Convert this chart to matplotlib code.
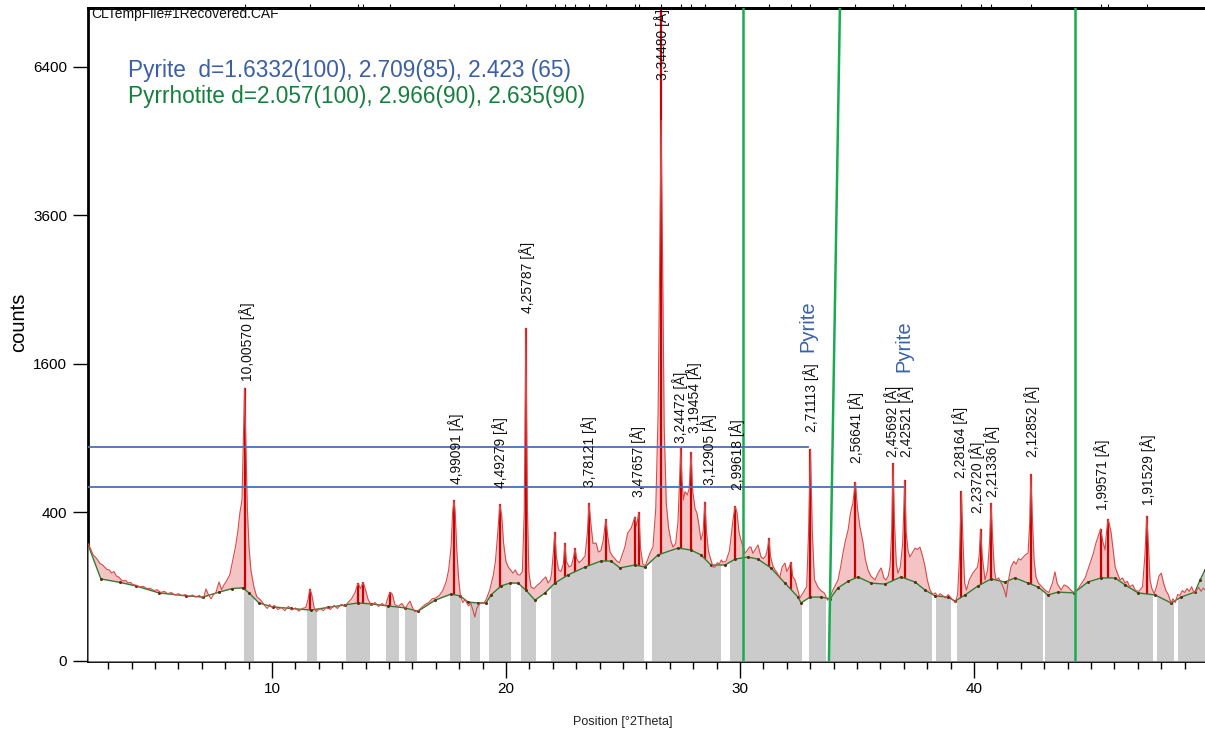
import numpy as np
import matplotlib
matplotlib.use("Agg")
import matplotlib.pyplot as plt
from matplotlib.path import Path

# ---------------- data ----------------
bg_points = [(2.14, 245), (2.69, 122), (3.5, 112), (4.19, 102), (5.17, 84), (6.32, 77), (7.05, 74),
             (7.74, 86), (8.3, 95), (8.76, 97), (9.02, 84), (9.44, 61), (10.04, 53), (10.8, 50),
             (11.67, 47), (12.4, 52), (13.12, 57), (13.68, 61), (14.23, 59), (14.96, 55), (15.68, 51),
             (16.24, 45), (16.97, 67), (17.65, 81), (18.03, 77), (18.38, 63), (18.8, 61), (19.15, 61),
             (19.36, 79), (19.79, 102), (20.17, 110), (20.51, 110), (20.85, 91), (21.24, 67), (21.67, 84),
             (22.09, 110), (22.65, 134), (23.38, 160), (24.06, 181), (24.49, 181), (24.87, 157),
             (25.51, 167), (25.94, 160), (26.50, 204), (27.35, 231), (27.91, 223), (28.33, 204),
             (28.76, 167), (29.36, 167), (29.79, 188), (30.34, 196), (30.77, 188), (31.32, 157),
             (31.92, 110), (32.48, 74), (32.61, 61), (32.99, 74), (33.46, 74), (33.85, 70), (34.19, 97),
             (34.62, 115), (35.04, 128), (35.60, 110), (36.20, 107), (36.88, 128), (37.48, 113),
             (37.91, 91), (38.33, 77), (38.89, 74), (39.19, 65), (39.62, 79), (40.17, 102), (40.73, 122),
             (41.32, 113), (41.75, 125), (42.31, 110), (42.74, 99), (43.16, 79), (43.59, 86), (44.27, 84),
             (44.87, 113), (45.43, 125), (46.03, 125), (46.45, 105), (47.01, 84), (47.74, 79),
             (48.42, 61), (48.85, 74), (49.44, 86), (49.66, 119), (49.87, 150)]

obs_points = [
    (2.14, 250), (2.25, 228), (2.35, 205), (2.45, 196), (2.55, 185), (2.65, 172), (2.75, 168), (2.85, 160),
    (2.95, 152), (3.05, 150), (3.15, 140), (3.25, 145), (3.35, 131), (3.45, 128), (3.55, 120), (3.65, 116),
    (3.75, 118), (3.85, 110), (3.95, 112), (4.05, 106), (4.2, 104), (4.35, 99), (4.5, 101), (4.65, 95),
    (4.8, 96), (4.95, 90), (5.1, 92), (5.25, 85), (5.4, 88), (5.55, 82), (5.7, 85), (5.85, 79), (6.0, 82),
    (6.15, 77), (6.3, 80), (6.45, 75), (6.6, 79), (6.75, 74), (6.9, 78), (7.0, 72), (7.1, 76), (7.18, 94),
    (7.3, 78), (7.4, 70), (7.5, 80), (7.6, 84), (7.74, 113), (7.85, 92), (7.95, 105), (8.05, 115),
    (8.2, 135), (8.33, 185), (8.45, 240), (8.55, 311), (8.63, 397), (8.72, 470), (8.78, 900), (8.83, 1350),
    (8.88, 900), (8.95, 420), (9.02, 235), (9.1, 150), (9.23, 99), (9.35, 75), (9.5, 68), (9.6, 62),
    (9.7, 55), (9.8, 50), (9.9, 58), (10.0, 52), (10.1, 56), (10.25, 48), (10.4, 52), (10.55, 46),
    (10.7, 54), (10.85, 47), (11.0, 51), (11.15, 45), (11.3, 50), (11.45, 52), (11.55, 70), (11.62, 94),
    (11.7, 80), (11.8, 52), (11.9, 44), (12.05, 50), (12.2, 46), (12.35, 53), (12.5, 48), (12.65, 56),
    (12.8, 50), (12.95, 58), (13.1, 54), (13.25, 62), (13.4, 70), (13.55, 85), (13.68, 110), (13.78, 95),
    (13.9, 112), (14.0, 92), (14.1, 70), (14.25, 56), (14.4, 62), (14.55, 54), (14.7, 60), (14.85, 55),
    (14.95, 72), (15.05, 86), (15.15, 80), (15.25, 58), (15.4, 54), (15.55, 60), (15.7, 50), (15.8, 58),
    (15.9, 65), (16.0, 52), (16.1, 44), (16.25, 46), (16.4, 52), (16.55, 58), (16.7, 62), (16.85, 70),
    (17.0, 72), (17.15, 78), (17.3, 90), (17.45, 115), (17.55, 150), (17.65, 230), (17.72, 400),
    (17.78, 470), (17.83, 400), (17.9, 220), (17.98, 120), (18.05, 80), (18.15, 62), (18.25, 68),
    (18.4, 55), (18.5, 60), (18.6, 45), (18.67, 35), (18.75, 50), (18.85, 58), (18.95, 62), (19.05, 60),
    (19.15, 68), (19.3, 90), (19.45, 130), (19.55, 180), (19.65, 300), (19.74, 446), (19.82, 380),
    (19.9, 250), (20.0, 180), (20.1, 160), (20.2, 150), (20.3, 140), (20.4, 150), (20.5, 135), (20.6, 134),
    (20.7, 145), (20.78, 400), (20.85, 2008), (20.92, 400), (20.98, 140), (21.07, 99), (21.2, 95),
    (21.3, 102), (21.45, 110), (21.55, 118), (21.7, 128), (21.8, 110), (21.9, 120), (21.95, 140),
    (22.03, 220), (22.09, 301), (22.15, 200), (22.25, 150), (22.35, 145), (22.45, 170), (22.52, 252),
    (22.58, 180), (22.7, 160), (22.8, 165), (22.9, 200), (22.95, 231), (23.02, 190), (23.12, 175),
    (23.25, 185), (23.38, 200), (23.48, 300), (23.55, 452), (23.62, 350), (23.72, 250), (23.85, 252),
    (23.95, 215), (24.05, 220), (24.15, 260), (24.27, 365), (24.35, 280), (24.45, 215), (24.55, 200),
    (24.65, 190), (24.75, 180), (24.85, 175), (24.95, 200), (25.08, 235), (25.2, 297), (25.35, 320),
    (25.51, 376), (25.58, 330), (25.68, 402), (25.75, 230), (25.85, 170), (25.95, 165), (26.05, 185),
    (26.15, 210), (26.28, 235), (26.4, 420), (26.5, 1100), (26.57, 3000), (26.63, 5300), (26.69, 3000),
    (26.76, 1000), (26.85, 450), (26.95, 320), (27.05, 260), (27.14, 235), (27.25, 250), (27.35, 350),
    (27.42, 600), (27.47, 822), (27.52, 600), (27.58, 470), (27.65, 520), (27.75, 500), (27.83, 540),
    (27.91, 791), (27.98, 520), (28.08, 420), (28.16, 397), (28.25, 330), (28.33, 265), (28.42, 300),
    (28.5, 458), (28.57, 300), (28.65, 220), (28.72, 196), (28.85, 160), (28.93, 160), (29.03, 175),
    (29.12, 170), (29.2, 185), (29.27, 177), (29.4, 180), (29.55, 220), (29.7, 360), (29.79, 435),
    (29.87, 400), (29.96, 300), (30.04, 265), (30.12, 240), (30.21, 211), (30.3, 220), (30.4, 235),
    (30.47, 235), (30.55, 210), (30.65, 225), (30.77, 244), (30.9, 196), (31.0, 190), (31.1, 200),
    (31.18, 230), (31.24, 274), (31.3, 200), (31.4, 165), (31.5, 150), (31.6, 140), (31.7, 125),
    (31.8, 160), (31.92, 174), (32.0, 145), (32.1, 160), (32.18, 177), (32.25, 130), (32.35, 119),
    (32.45, 95), (32.56, 72), (32.7, 85), (32.85, 100), (32.93, 300), (33.01, 814), (33.09, 300),
    (33.18, 120), (33.33, 99), (33.45, 90), (33.6, 84), (33.74, 67), (33.85, 75), (34.0, 95), (34.19, 119),
    (34.3, 160), (34.4, 211), (34.5, 260), (34.62, 311), (34.72, 397), (34.82, 450), (34.93, 580),
    (35.02, 420), (35.12, 330), (35.26, 252), (35.35, 190), (35.47, 150), (35.6, 130), (35.77, 119),
    (35.9, 140), (36.03, 157), (36.15, 125), (36.24, 119), (36.33, 130), (36.41, 160), (36.48, 300),
    (36.54, 710), (36.6, 350), (36.68, 170), (36.75, 140), (36.85, 160), (36.95, 250), (37.04, 593),
    (37.1, 300), (37.18, 220), (37.26, 196), (37.38, 215), (37.48, 231), (37.58, 225), (37.69, 235),
    (37.8, 200), (37.91, 160), (38.0, 120), (38.12, 91), (38.25, 80), (38.35, 84), (38.45, 75),
    (38.55, 82), (38.65, 78), (38.78, 72), (38.9, 80), (39.05, 70), (39.2, 62), (39.3, 80), (39.38, 200),
    (39.46, 523), (39.53, 250), (39.6, 110), (39.68, 91), (39.8, 120), (39.95, 140), (40.05, 150),
    (40.15, 160), (40.22, 200), (40.28, 316), (40.35, 200), (40.47, 119), (40.58, 150), (40.66, 250),
    (40.73, 452), (40.8, 260), (40.87, 150), (40.94, 119), (41.05, 125), (41.2, 105), (41.3, 90),
    (41.37, 74), (41.45, 110), (41.58, 160), (41.7, 180), (41.8, 170), (41.9, 190), (42.0, 185),
    (42.1, 195), (42.2, 205), (42.31, 211), (42.38, 350), (42.43, 633), (42.5, 350), (42.57, 180),
    (42.65, 128), (42.75, 110), (42.9, 100), (43.05, 90), (43.2, 85), (43.35, 110), (43.46, 144),
    (43.55, 110), (43.72, 91), (43.85, 105), (44.0, 100), (44.15, 90), (44.3, 84), (44.45, 95),
    (44.6, 110), (44.75, 125), (44.96, 174), (45.1, 210), (45.21, 252), (45.33, 290), (45.41, 316),
    (45.5, 260), (45.6, 223), (45.66, 300), (45.73, 365), (45.8, 330), (45.86, 297), (45.95, 220),
    (46.03, 160), (46.15, 135), (46.24, 119), (46.35, 125), (46.45, 110), (46.55, 115), (46.65, 100),
    (46.78, 105), (46.9, 90), (47.05, 88), (47.2, 100), (47.3, 200), (47.38, 381), (47.45, 250),
    (47.52, 119), (47.6, 95), (47.7, 82), (47.8, 100), (47.9, 130), (48.0, 140), (48.1, 110), (48.2, 90),
    (48.3, 80), (48.42, 61), (48.5, 70), (48.6, 62), (48.7, 80), (48.8, 78), (48.9, 90), (49.0, 85),
    (49.1, 95), (49.2, 88), (49.3, 100), (49.4, 84), (49.5, 90), (49.6, 98), (49.7, 88), (49.8, 96),
    (49.87, 92)]

# fitted peak sticks: position (°2θ), top (counts)
stick_pos = [8.83, 11.62, 13.68, 13.9, 15.05, 17.78, 19.74, 20.85, 22.09, 22.52, 22.95, 23.55, 24.27,
             25.51, 25.68, 26.63, 27.47, 27.91, 28.5, 29.79, 31.24, 32.18, 33.01, 34.93, 36.54, 37.04,
             39.46, 40.28, 40.73, 42.43, 45.41, 45.73, 47.38]
stick_top = [1350, 94, 110, 112, 86, 470, 446, 2008, 301, 252, 231, 452, 365,
             376, 402, 9000, 822, 791, 458, 435, 274, 177, 814, 580, 710, 593,
             523, 316, 452, 633, 316, 365, 381]

# labelled d-spacings
d_labels = ["10,00570", "4,99091", "4,49279", "4,25787", "3,78121", "3,47657", "3,34480", "3,24472",
            "3,19454", "3,12905", "2,99618", "2,71113", "2,56641", "2,45692", "2,42521", "2,28164",
            "2,23720", "2,21336", "2,12852", "1,99571", "1,91529"]
d_label_x = [8.93, 17.86, 19.74, 20.90, 23.55, 25.64, 26.67, 27.42, 28.03, 28.66, 29.87, 33.03, 34.96,
             36.48, 37.10, 39.40, 40.14, 40.78, 42.48, 45.47, 47.44]
d_label_y = [1420, 567, 542, 2194, 548, 487, 7700, 861, 942, 561, 530, 950, 710, 754, 754, 607, 397,
             487, 754, 413, 441]

# grey background regions (°2θ)
grey_regions = [(8.80, 9.23), (11.50, 11.92), (13.16, 14.19), (14.87, 15.45), (15.68, 16.18),
                (17.61, 18.08), (18.46, 18.89), (19.27, 20.21), (20.64, 21.28), (21.92, 25.90),
                (26.24, 29.19), (29.57, 32.65), (32.95, 33.68), (33.85, 38.21), (38.38, 39.02),
                (39.27, 42.95), (43.03, 47.65), (47.82, 48.55), (48.72, 49.95)]

# reference lines
green_lines = [((30.13, 30.13), (0, 9000)), ((33.80, 34.27), (0, 7724)), ((44.30, 44.30), (0, 9000))]
blue_lines = [(830, 32.91), (548, 37.01)]   # (counts, x end)
pyrite_marks = [(32.91, 1730), (37.01, 1513)]

y_ticks = [0, 400, 1600, 3600, 6400]
x_ticks = [10, 20, 30, 40]

# ---------------- plot ----------------
W, H = 1205, 736
fig = plt.figure(figsize=(W / 100, H / 100), dpi=100)
ax = fig.add_axes([88 / W, (H - 661) / H, (W - 88) / W, (661 - 8) / H])

ax.set_yscale('function', functions=(lambda v: np.sqrt(np.clip(v, 0, None)), lambda v: np.square(v)))
ax.set_xlim(2.14, 49.87)
ax.set_ylim(0, 7724)

ox, oy = np.array(obs_points).T
bx, by = np.array(bg_points).T

PINK = '#f4c4c4'
ax.fill_between(ox, 0, oy, color=PINK, lw=0, zorder=1)
ax.vlines(stick_pos, 0, stick_top, color='#cc0000', lw=1.6, zorder=2)
ax.fill_between(bx, 0, by, color='white', lw=0, zorder=3)
grey = ax.fill_between(bx, 0, by, color='#cbcbcb', lw=0, zorder=4)
rects = [Path([(a, 0), (b, 0), (b, 20000), (a, 20000), (a, 0)],
              [Path.MOVETO, Path.LINETO, Path.LINETO, Path.LINETO, Path.CLOSEPOLY])
         for a, b in grey_regions]
grey.set_clip_path(Path.make_compound_path(*rects), ax.transData)

ax.plot(bx, by, color='#2e7d32', lw=1.0, zorder=5, marker='o', ms=1.2, mfc='#5a3010', mec='#5a3010')
ax.plot(ox, oy, color='#d84a4a', lw=0.8, zorder=6)

for (xs, ys) in green_lines:
    ax.plot(xs, ys, color='#1aaa50', lw=1.8, zorder=7)
for yv, xe in blue_lines:
    ax.plot([2.14, xe], [yv, yv], color='#4a6fb5', lw=1.3, zorder=7)

lab_font = ['Liberation Sans', 'DejaVu Sans']
for t, x, y in zip(d_labels, d_label_x, d_label_y):
    va = 'top' if y > 5000 else 'bottom'
    ax.text(x, y, t + " [Å]", rotation=90, ha='center', va=va, fontsize=10, family=lab_font,
            color='#111111', zorder=8)
for x, y in pyrite_marks:
    ax.text(x, y, "Pyrite", rotation=90, ha='center', va='bottom', fontsize=14.5, family=lab_font,
            color='#3a62a8', zorder=8)

fig.text(91 / W, 1 - 14 / H, "CLTempFile#1Recovered.CAF", ha='left', va='center', fontsize=10,
         family=lab_font, color='#111111')
fig.text(128 / W, 1 - 70 / H, "Pyrite  d=1.6332(100), 2.709(85), 2.423 (65)", ha='left', va='center',
         fontsize=16.3, family=lab_font, color='#3a5fa5')
fig.text(128 / W, 1 - 97 / H, "Pyrrhotite d=2.057(100), 2.966(90), 2.635(90)", ha='left', va='center',
         fontsize=16.3, family=lab_font, color='#15803d')
fig.text(19 / W, 1 - 322 / H, "counts", rotation=90, ha='center', va='center', fontsize=14.5,
         family=lab_font, color='black')
fig.text(623 / W, 1 - 722 / H, "Position [°2Theta]", ha='center', va='center', fontsize=9,
         family=['Liberation Sans Narrow', 'Liberation Sans', 'DejaVu Sans'], color='#222222')

narrow = ['Liberation Sans Narrow', 'Liberation Sans', 'DejaVu Sans']
ax.set_yticks(y_ticks)
ax.set_yticklabels([str(v) for v in y_ticks], family=narrow, fontsize=11)
ax.set_xticks(x_ticks)
ax.set_xticklabels([str(v) for v in x_ticks], family=narrow, fontsize=11)
ax.set_xticks(np.arange(3, 50, 1), minor=True)
ax.tick_params(axis='x', which='major', length=12, width=1, direction='out', pad=3)
ax.tick_params(axis='x', which='minor', length=6, width=1, direction='out')
ax.tick_params(axis='y', which='major', length=11, width=1, direction='out', pad=4)

top = ax.secondary_xaxis('top')
top.set_xticks(stick_pos)
top.set_xticklabels([])
top.tick_params(length=3, width=0.8, direction='out')
top.spines['top'].set_linewidth(2)

for s in ['left', 'bottom', 'top']:
    ax.spines[s].set_linewidth(2)
ax.spines['right'].set_visible(False)

fig.savefig('out.png', dpi=100)
